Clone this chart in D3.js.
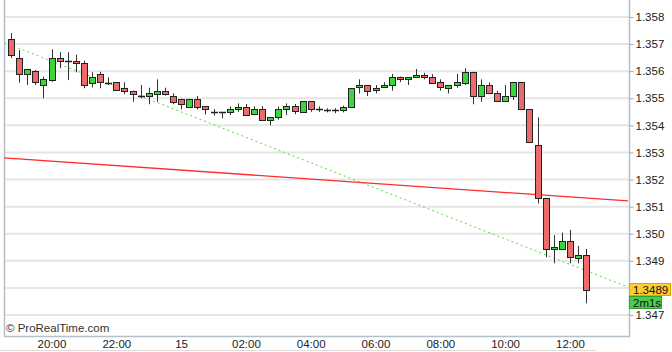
<!DOCTYPE html>
<html>
<head>
<meta charset="utf-8">
<script src="https://cdn.jsdelivr.net/npm/d3@7"></script>
<style>
  html, body { margin: 0; padding: 0; background: #fff; }
  svg { display: block; font-family: "Liberation Sans", Arial, sans-serif; }
</style>
</head>
<body>
<div id="chart"></div>
<script>
// 15 minute candles, first one at 18:45
const open  = [1.35718,1.35648,1.35589,1.35601,1.35549,1.35567,1.35649,1.35639,1.35638,1.35630,
               1.35559,1.35588,1.35557,1.35559,1.35538,1.35528,1.35510,1.35510,1.35518,1.35528,
               1.35510,1.35498,1.35469,1.35498,1.35470,1.35450,1.35448,1.35450,1.35460,1.35469,
               1.35441,1.35460,1.35421,1.35431,1.35460,1.35470,1.35450,1.35490,1.35459,1.35457,
               1.35457,1.35457,1.35469,1.35541,1.35549,1.35531,1.35541,1.35549,1.35577,1.35570,
               1.35580,1.35587,1.35580,1.35559,1.35539,1.35549,1.35559,1.35598,1.35508,1.35549,
               1.35518,1.35489,1.35508,1.35559,1.35459,1.35328,1.35131,1.34943,1.34943,1.34972,
               1.34913,1.34923];
const high  = [1.35741,1.35678,1.35608,1.35604,1.35580,1.35681,1.35670,1.35670,1.35661,1.35639,
               1.35596,1.35598,1.35577,1.35559,1.35559,1.35528,1.35549,1.35539,1.35570,1.35539,
               1.35518,1.35498,1.35498,1.35508,1.35470,1.35460,1.35448,1.35470,1.35481,1.35479,
               1.35470,1.35471,1.35431,1.35470,1.35481,1.35479,1.35490,1.35490,1.35470,1.35463,
               1.35463,1.35473,1.35538,1.35570,1.35549,1.35549,1.35559,1.35590,1.35580,1.35577,
               1.35608,1.35594,1.35589,1.35570,1.35549,1.35590,1.35611,1.35598,1.35570,1.35559,
               1.35528,1.35549,1.35559,1.35559,1.35459,1.35430,1.35131,1.34995,1.35004,1.35014,
               1.34955,1.34944];
const low   = [1.35649,1.35558,1.35549,1.35549,1.35500,1.35561,1.35611,1.35567,1.35596,1.35537,
               1.35540,1.35537,1.35549,1.35528,1.35515,1.35487,1.35500,1.35478,1.35487,1.35510,
               1.35478,1.35459,1.35469,1.35459,1.35440,1.35436,1.35426,1.35438,1.35450,1.35441,
               1.35441,1.35421,1.35400,1.35421,1.35438,1.35441,1.35450,1.35450,1.35450,1.35448,
               1.35445,1.35448,1.35469,1.35518,1.35508,1.35518,1.35541,1.35528,1.35560,1.35549,
               1.35580,1.35570,1.35559,1.35528,1.35518,1.35539,1.35549,1.35478,1.35487,1.35518,
               1.35489,1.35489,1.35494,1.35459,1.35339,1.35112,1.34913,1.34891,1.34943,1.34891,
               1.34891,1.34743];
const close = [1.35659,1.35590,1.35608,1.35559,1.35570,1.35649,1.35638,1.35639,1.35629,1.35548,
               1.35580,1.35559,1.35557,1.35528,1.35528,1.35518,1.35510,1.35520,1.35528,1.35518,
               1.35487,1.35479,1.35498,1.35469,1.35460,1.35450,1.35448,1.35460,1.35469,1.35441,
               1.35460,1.35421,1.35431,1.35460,1.35470,1.35450,1.35490,1.35460,1.35459,1.35457,
               1.35457,1.35467,1.35538,1.35549,1.35528,1.35538,1.35549,1.35577,1.35570,1.35577,
               1.35587,1.35580,1.35559,1.35539,1.35549,1.35559,1.35598,1.35510,1.35549,1.35518,
               1.35489,1.35508,1.35559,1.35459,1.35339,1.35133,1.34943,1.34952,1.34972,1.34913,
               1.34923,1.34792];

// x axis labels (candle index where they sit)
const tickIndex  = [5, 13, 21, 29, 37, 45, 53, 61, 69];
const tickLabels = ['20:00', '22:00', '15', '02:00', '04:00', '06:00', '08:00', '10:00', '12:00'];
const priceTicks = [1.347, 1.348, 1.349, 1.350, 1.351, 1.352, 1.353, 1.354, 1.355, 1.356, 1.357, 1.358];
const hiddenPriceLabel = 1.348;   // sits under the price tag

// trend lines, given at both ends of the visible range
const redLine   = [[-0.864, 1.35280], [76.17, 1.35121]];
const greenLine = [[-0.864, 1.35706], [76.17, 1.34803]];

const lastPrice = '1.3489';
const countdown = '2m1s';

const W = 672, H = 352;
const plotL = 4, plotR = 629, plotT = 0, plotB = 336;

const svg = d3.select('#chart').append('svg')
  .attr('width', W)
  .attr('height', H);

const x = d3.scaleLinear().domain([-0.864, 76.17]).range([plotL, plotR - 1]);
const y = d3.scaleLinear().domain([1.346224, 1.358628]).range([plotB, plotT]);

// horizontal grid
svg.append('g')
  .selectAll('line')
  .data(priceTicks)
  .join('line')
  .attr('x1', plotL).attr('x2', plotR)
  .attr('y1', d => y(d)).attr('y2', d => y(d))
  .attr('stroke', '#e6e6e6')
  .attr('stroke-width', 2);

// frame
svg.append('path')
  .attr('d', `M${plotL + 0.5},${plotT} V${plotB + 0.5} H${plotR + 0.5} V${plotT}`)
  .attr('fill', 'none')
  .attr('stroke', '#b4c0ca')
  .attr('stroke-width', 1.5);

// right axis
const yAxis = d3.axisRight(y)
  .tickValues(priceTicks)
  .tickSize(4)
  .tickPadding(2)
  .tickFormat(d3.format('.3f'));

const ya = svg.append('g')
  .attr('transform', `translate(${plotR + 0.5},0)`)
  .call(yAxis);
ya.select('.domain').remove();
ya.selectAll('.tick line').attr('stroke', '#9aa8b4');
ya.selectAll('.tick text')
  .attr('fill', '#222')
  .style('font-size', '11.5px')
  .style('font-family', '"Liberation Sans", Arial, sans-serif');
ya.selectAll('.tick').filter(d => d === hiddenPriceLabel).select('text').remove();

// bottom axis
const xAxis = d3.axisBottom(x)
  .tickValues(tickIndex)
  .tickSize(0)
  .tickPadding(4)
  .tickFormat((d, i) => tickLabels[i]);

const xa = svg.append('g')
  .attr('transform', `translate(0,${plotB})`)
  .call(xAxis);
xa.select('.domain').remove();
xa.selectAll('.tick text')
  .attr('fill', '#222')
  .style('font-size', '11.5px')
  .style('font-family', '"Liberation Sans", Arial, sans-serif');

// trend lines
const line = d3.line().x(d => x(d[0])).y(d => y(d[1]));

svg.append('path')
  .datum(redLine)
  .attr('d', line)
  .attr('fill', 'none')
  .attr('stroke', '#ff2a2a')
  .attr('stroke-width', 1.3);

svg.append('path')
  .datum(greenLine)
  .attr('d', line)
  .attr('fill', 'none')
  .attr('stroke', '#55dd33')
  .attr('stroke-width', 1)
  .attr('stroke-dasharray', '2,3');

// candles
const candles = d3.range(open.length).map(i => ({
  i, o: open[i], h: high[i], l: low[i], c: close[i]
}));

const g = svg.append('g');
const cx = d => Math.round(x(d.i)) + 0.5;

g.selectAll('line.wick')
  .data(candles)
  .join('line')
  .attr('class', 'wick')
  .attr('x1', cx).attr('x2', cx)
  .attr('y1', d => y(d.h)).attr('y2', d => y(d.l))
  .attr('stroke', '#333')
  .attr('stroke-width', 1);

const bodies = candles.filter(d => Math.abs(y(d.o) - y(d.c)) >= 1.5);
const dojis = candles.filter(d => Math.abs(y(d.o) - y(d.c)) < 1.5);

g.selectAll('rect.body')
  .data(bodies)
  .join('rect')
  .attr('class', 'body')
  .attr('x', d => cx(d) - 3)
  .attr('width', 6)
  .attr('y', d => Math.round(y(Math.max(d.o, d.c))) + 0.5)
  .attr('height', d => Math.max(1, Math.round(Math.abs(y(d.o) - y(d.c)))))
  .attr('fill', d => d.c >= d.o ? '#3ed43e' : '#ec6a6a')
  .attr('stroke', '#222')
  .attr('stroke-width', 1);

g.selectAll('line.doji')
  .data(dojis)
  .join('line')
  .attr('class', 'doji')
  .attr('x1', d => cx(d) - 3.5).attr('x2', d => cx(d) + 3.5)
  .attr('y1', d => Math.round(y(d.c)) + 0.5).attr('y2', d => Math.round(y(d.c)) + 0.5)
  .attr('stroke', '#222')
  .attr('stroke-width', 1.5);

// price and countdown labels
const tag = svg.append('g');
tag.append('rect')
  .attr('x', plotR + 0.5).attr('y', 283.5)
  .attr('width', 41).attr('height', 12)
  .attr('fill', '#ffcc33')
  .attr('stroke', '#e0a400');
tag.append('text')
  .attr('x', plotR + 4).attr('y', 294)
  .attr('fill', '#111')
  .style('font-size', '11.5px')
  .text(lastPrice);
tag.append('rect')
  .attr('x', plotR + 0.5).attr('y', 296.5)
  .attr('width', 32).attr('height', 12)
  .attr('fill', '#4ccc4c')
  .attr('stroke', '#2ea02e');
tag.append('text')
  .attr('x', plotR + 4).attr('y', 307)
  .attr('fill', '#111')
  .style('font-size', '11.5px')
  .text(countdown);

// watermark
svg.append('text')
  .attr('x', 6).attr('y', 332)
  .attr('fill', '#333')
  .style('font-size', '11.5px')
  .text('\u00a9 ProRealTime.com');

// faint scroll bar line under the axis
svg.append('line')
  .attr('x1', 0).attr('x2', 596)
  .attr('y1', 350.5).attr('y2', 350.5)
  .attr('stroke', '#dcdcdc');
</script>
</body>
</html>
